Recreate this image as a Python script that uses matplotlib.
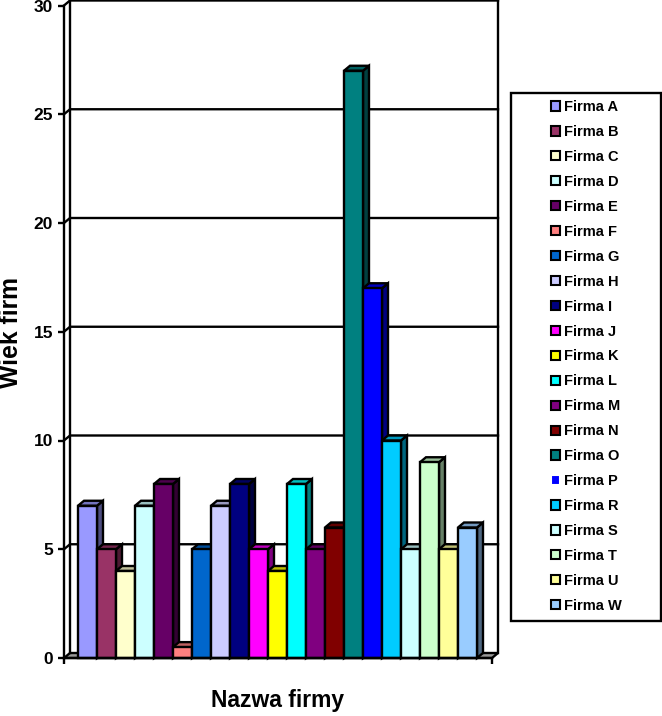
import matplotlib
matplotlib.use('Agg')
import matplotlib.pyplot as plt
from matplotlib.patches import Patch, Rectangle
from matplotlib.colors import to_rgb

firmy = ['Firma A', 'Firma B', 'Firma C', 'Firma D', 'Firma E', 'Firma F', 'Firma G',
         'Firma H', 'Firma I', 'Firma J', 'Firma K', 'Firma L', 'Firma M', 'Firma N',
         'Firma O', 'Firma P', 'Firma R', 'Firma S', 'Firma T', 'Firma U', 'Firma W']
wiek = [7, 5, 4, 7, 8, 0.5, 5, 7, 8, 5, 4, 8, 5, 6, 27, 17, 10, 5, 9, 5, 6]
kolory = ['#9999FF', '#993366', '#FFFFCC', '#CCFFFF', '#660066', '#FF8080', '#0066CC',
          '#CCCCFF', '#000080', '#FF00FF', '#FFFF00', '#00FFFF', '#800080', '#800000',
          '#008080', '#0000FF', '#00CCFF', '#CCFFFF', '#CCFFCC', '#FFFF99', '#99CCFF']
yticks = [0, 5, 10, 15, 20, 25, 30]

W, H = 662, 716
LW = 1.7
plt.rcParams['font.family'] = ['Liberation Sans', 'DejaVu Sans']
plt.rcParams['font.weight'] = 'bold'

fig = plt.figure(figsize=(W / 100, H / 100), dpi=100)

# os w pikselach: lewa 64, tylna sciana 498, zero na 658
ax = fig.add_axes([64 / W, (H - 658) / H, 434 / W, 658 / H])
px_x = 19.0
px_y = 21.75
dx = 6 / px_x   # glebokosc 3D
dy = 5 / px_y
x_lewy = -0.5 - 14 / px_x
x_prawy = 20.5 + 15 / px_x
ax.set_xlim(x_lewy, x_prawy + dx)
ax.set_ylim(0, 658 / px_y)

# podloga i sciany
ax.fill([x_lewy, x_lewy + dx, x_prawy + dx, x_prawy], [0, dy, dy, 0],
        facecolor='#999999', edgecolor='black', lw=LW, zorder=1, clip_on=False)
for t in yticks[1:]:
    ax.plot([x_lewy, x_lewy + dx, x_prawy + dx], [t, t + dy, t + dy], color='black', lw=LW,
            zorder=1, clip_on=False, solid_joinstyle='miter')
ax.plot([x_lewy + dx, x_lewy + dx], [dy, 30 + dy], color='black', lw=LW, zorder=1, clip_on=False)
ax.plot([x_prawy + dx, x_prawy + dx], [dy, 30 + dy], color='black', lw=LW, zorder=1, clip_on=False)


def przyciemnij(kolor, f):
    r, g, b = to_rgb(kolor)
    return (r * f, g * f, b * f)


for i, (v, k) in enumerate(zip(wiek, kolory)):
    z = 2 + i
    l, r = i - 0.5, i + 0.5
    ax.fill([r, r + dx, r + dx, r], [0, dy, v + dy, v], facecolor=przyciemnij(k, 0.5),
            edgecolor='black', lw=LW, zorder=z, clip_on=False, joinstyle='miter')
    ax.fill([l, l + dx, r + dx, r], [v, v + dy, v + dy, v], facecolor=przyciemnij(k, 0.75),
            edgecolor='black', lw=LW, zorder=z, clip_on=False, joinstyle='miter')
    ax.bar(i, v, width=1, color=k, edgecolor='black', linewidth=LW, zorder=z, clip_on=False)

# osie
for s in ['top', 'right']:
    ax.spines[s].set_visible(False)
ax.spines['left'].set_bounds(0, 30)
ax.spines['bottom'].set_bounds(x_lewy, x_prawy)
ax.spines['left'].set_linewidth(LW)
ax.spines['bottom'].set_linewidth(LW)
ax.spines['bottom'].set_zorder(40)
ax.set_yticks(yticks)
ax.set_xticks([x_lewy, x_prawy])
ax.set_xticklabels(['', ''])
ax.tick_params(axis='both', length=4.3, width=LW, labelsize=12.5, pad=3.5)

fig.text(278 / W, 1 - 701 / H, 'Nazwa firmy', ha='center', va='center', fontsize=16.5)
fig.text(11 / W, 1 - 333 / H, 'Wiek firm', ha='center', va='center', rotation=90, fontsize=17.8)

# legenda
fig.add_artist(Rectangle((511 / W, 1 - 621 / H), 150 / W, 528 / H, transform=fig.transFigure,
                         facecolor='white', edgecolor='black', lw=LW))
uchwyty = []
for n, k in zip(firmy, kolory):
    if n == 'Firma P':
        uchwyty.append(Patch(facecolor=k, edgecolor='white', lw=1.5, label=n))
    else:
        uchwyty.append(Patch(facecolor=k, edgecolor='black', lw=1.5, label=n))
fig.legend(handles=uchwyty, loc='center', bbox_to_anchor=(586.5 / W, 1 - 356.5 / H),
           frameon=False, fontsize=10.5, handlelength=0.6, handleheight=0.6,
           handletextpad=0.32, labelspacing=0.75, borderpad=0)

fig.savefig('out.png', dpi=100)
